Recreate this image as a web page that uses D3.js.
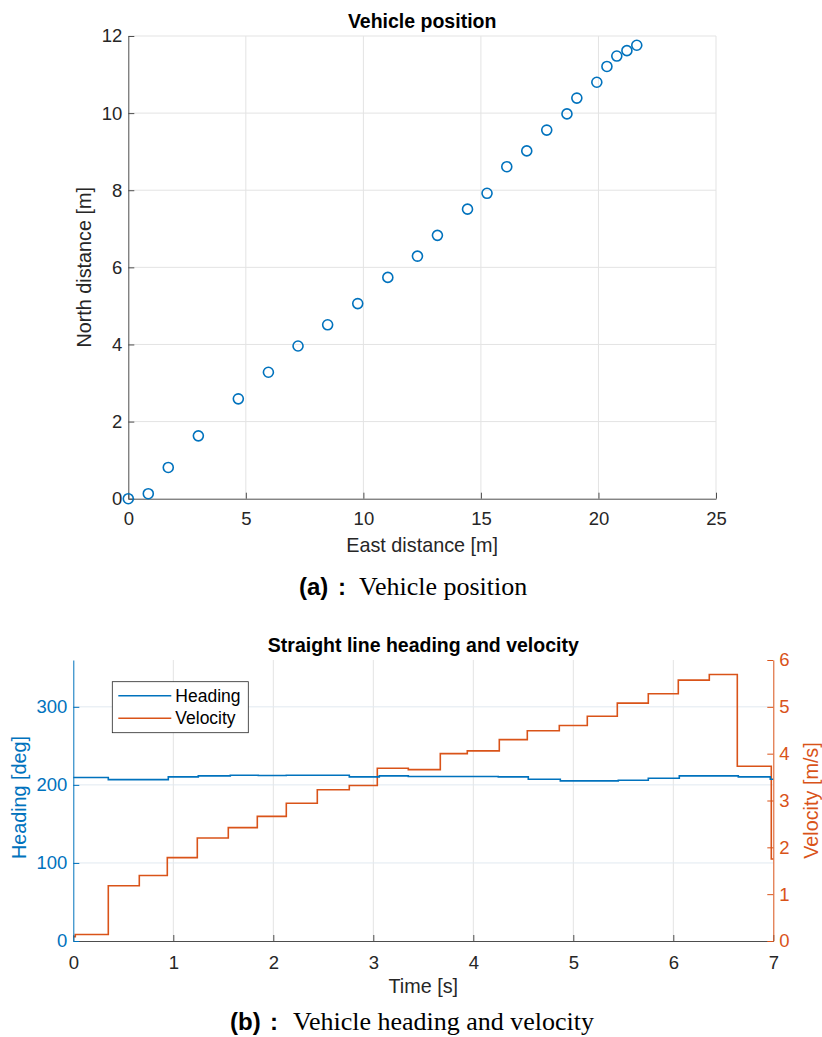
<!DOCTYPE html>
<html lang="en">
<head>
    <meta charset="UTF-8">
    <title>Vehicle position, heading and velocity</title>
    <style>
        body{
            margin: 0;
            background: #fff;
        }
        svg{
            display: block;
        }
        .axis text{
            font-family: "Liberation Sans", Arial, sans-serif;
            font-size: 18.5px;
            fill: #262626;
        }
        .axis .domain{
            stroke: #4d4d4d;
        }
        .axis .tick line{
            stroke: #4d4d4d;
        }
        .grid line{
            stroke: #e3e3e3;
            stroke-width: 1px;
        }
        .gridH line{
            stroke: #e1e9f0;
        }
        .title{
            font-family: "Liberation Sans", Arial, sans-serif;
            font-weight: bold;
            font-size: 19.5px;
            fill: #000;
        }
        .label{
            font-family: "Liberation Sans", Arial, sans-serif;
            font-size: 19.8px;
            fill: #262626;
        }
        .capTag{
            font-family: "Liberation Sans", Arial, sans-serif;
            font-weight: bold;
            font-size: 24px;
        }
        .capText{
            font-family: "Liberation Serif", "DejaVu Serif", serif;
            font-size: 26px;
        }
        .marker{
            fill: none;
            stroke: #0072BD;
            stroke-width: 1.6px;
        }
        .heading{
            fill: none;
            stroke: #0072BD;
            stroke-width: 1.6px;
        }
        .velocity{
            fill: none;
            stroke: #D95319;
            stroke-width: 1.6px;
        }
        .legend text{
            font-family: "Liberation Sans", Arial, sans-serif;
            font-size: 17.5px;
            fill: #000;
        }
    </style>
    <script src="https://cdn.jsdelivr.net/npm/d3@7"></script>
</head>
<body>
<script>

    // ---- data: vehicle position (top chart)
    const eastDist  = [0, 0.85, 1.70, 2.98, 4.68, 5.96, 7.22, 8.48, 9.76, 11.04, 12.30,
                       13.15, 14.43, 15.26, 16.10, 16.95, 17.80, 18.66, 19.08, 19.93,
                       20.36, 20.78, 21.21, 21.63];
    const northDist = [0, 0.13, 0.81, 1.63, 2.59, 3.28, 3.96, 4.51, 5.06, 5.74, 6.29,
                       6.83, 7.51, 7.92, 8.61, 9.02, 9.56, 9.98, 10.39, 10.80,
                       11.21, 11.48, 11.62, 11.76];
    const eastTicks  = [0, 5, 10, 15, 20, 25];
    const northTicks = [0, 2, 4, 6, 8, 10, 12];

    // ---- data: heading and velocity (bottom chart), step series
    const headingTime = [0, 0.35, 0.95, 1.25, 1.57, 1.85, 2.13, 2.76, 3.06, 3.35, 4.25,
                         4.55, 4.87, 5.45, 5.75, 6.06, 6.65, 6.97, 7.0];
    const headingDeg  = [209.4, 206.8, 210.3, 211.5, 212.4, 212.0, 212.4, 210.3, 211.5, 210.7, 210.3,
                         207.3, 205.1, 206.0, 208.5, 211.5, 210.3, 207.3, 207.3];
    const velTime = [0, 0.02, 0.35, 0.66, 0.94, 1.24, 1.55, 1.84, 2.13, 2.44, 2.76,
                     3.04, 3.35, 3.67, 3.94, 4.26, 4.54, 4.86, 5.14, 5.44, 5.75,
                     6.05, 6.36, 6.64, 6.98, 7.0];
    const velMs   = [0.09, 0.14, 1.18, 1.40, 1.78, 2.20, 2.42, 2.66, 2.94, 3.23, 3.32,
                     3.69, 3.66, 4.00, 4.06, 4.30, 4.49, 4.60, 4.80, 5.08, 5.28,
                     5.57, 5.69, 3.73, 1.75, 1.75];
    const timeTicks    = [0, 1, 2, 3, 4, 5, 6, 7];
    const headingTicks = [0, 100, 200, 300];
    const velTicks     = [0, 1, 2, 3, 4, 5, 6];
    const legendNames  = ["Heading", "Velocity"];

    const width = 822;
    const height = 1037;
    const blue = "#0072BD";
    const orange = "#D95319";

    const svg = d3.select("body").append("svg")
        .attr("width", width)
        .attr("height", height);

    /* ================= (a) Vehicle position ================= */
    const top1 = {left: 128.3, right: 716, top: 36, bottom: 498.7};

    const xPos = d3.scaleLinear().domain([0, 25]).range([top1.left, top1.right]);
    const yPos = d3.scaleLinear().domain([0, 12]).range([top1.bottom, top1.top]);

    // grid
    svg.append("g").attr("class", "grid")
        .selectAll("line").data(eastTicks.slice(1)).enter().append("line")
        .attr("x1", d => xPos(d)).attr("x2", d => xPos(d))
        .attr("y1", top1.top).attr("y2", top1.bottom);
    svg.append("g").attr("class", "grid")
        .selectAll("line").data(northTicks.slice(1)).enter().append("line")
        .attr("x1", top1.left).attr("x2", top1.right)
        .attr("y1", d => yPos(d)).attr("y2", d => yPos(d));

    // axes (ticks point inward like matlab)
    svg.append("g").attr("class", "axis")
        .attr("transform", `translate(0,${top1.bottom})`)
        .call(d3.axisBottom(xPos).tickValues(eastTicks).tickFormat(d3.format("d"))
            .tickSizeInner(-6).tickSizeOuter(0).tickPadding(13));
    svg.append("g").attr("class", "axis")
        .attr("transform", `translate(${top1.left},0)`)
        .call(d3.axisLeft(yPos).tickValues(northTicks).tickFormat(d3.format("d"))
            .tickSizeInner(-6).tickSizeOuter(0).tickPadding(6));

    // markers
    svg.append("g")
        .selectAll("circle")
        .data(eastDist.map((e, i) => ({e: e, n: northDist[i]})))
        .enter()
        .append("circle")
        .attr("class", "marker")
        .attr("cx", d => xPos(d.e))
        .attr("cy", d => yPos(d.n))
        .attr("r", 5);

    svg.append("text").attr("class", "title")
        .attr("x", (top1.left + top1.right) / 2).attr("y", 28)
        .style("text-anchor", "middle")
        .text("Vehicle position");

    svg.append("text").attr("class", "label")
        .attr("x", (top1.left + top1.right) / 2).attr("y", 552)
        .style("text-anchor", "middle")
        .text("East distance [m]");

    svg.append("text").attr("class", "label")
        .attr("transform", `translate(91,${(top1.top + top1.bottom) / 2}) rotate(-90)`)
        .style("text-anchor", "middle")
        .text("North distance [m]");

    // caption (a)
    svg.append("text").attr("class", "capTag").attr("x", 299).attr("y", 595).text("(a)");
    svg.append("text").attr("class", "capTag").attr("x", 338).attr("y", 595).text(":");
    svg.append("text").attr("class", "capText").attr("x", 359).attr("y", 595).text("Vehicle position");

    /* ================= (b) heading and velocity ================= */
    const bot = {left: 73.3, right: 773.3, top: 660, bottom: 941};

    const xTime = d3.scaleLinear().domain([0, 7]).range([bot.left, bot.right]);
    const yHead = d3.scaleLinear().domain([0, 360]).range([bot.bottom, bot.top]);
    const yVel  = d3.scaleLinear().domain([0, 6]).range([bot.bottom, bot.top]);

    svg.append("g").attr("class", "grid")
        .selectAll("line").data(timeTicks.slice(1, -1)).enter().append("line")
        .attr("x1", d => xTime(d)).attr("x2", d => xTime(d))
        .attr("y1", bot.top).attr("y2", bot.bottom);
    svg.append("g").attr("class", "grid gridH")
        .selectAll("line").data(headingTicks.slice(1)).enter().append("line")
        .attr("x1", bot.left).attr("x2", bot.right)
        .attr("y1", d => yHead(d)).attr("y2", d => yHead(d));

    const lineHead = d3.line()
        .x(d => xTime(d.t))
        .y(d => yHead(d.v))
        .curve(d3.curveStepAfter);
    const lineVel = d3.line()
        .x(d => xTime(d.t))
        .y(d => yVel(d.v))
        .curve(d3.curveStepAfter);

    svg.append("path").attr("class", "velocity")
        .datum(velTime.map((t, i) => ({t: t, v: velMs[i]})))
        .attr("d", lineVel);
    svg.append("path").attr("class", "heading")
        .datum(headingTime.map((t, i) => ({t: t, v: headingDeg[i]})))
        .attr("d", lineHead);

    svg.append("g").attr("class", "axis")
        .attr("transform", `translate(0,${bot.bottom})`)
        .call(d3.axisBottom(xTime).tickValues(timeTicks).tickFormat(d3.format("d"))
            .tickSizeInner(-6).tickSizeOuter(0).tickPadding(15));

    const leftAx = svg.append("g").attr("class", "axis")
        .attr("transform", `translate(${bot.left},0)`)
        .call(d3.axisLeft(yHead).tickValues(headingTicks).tickFormat(d3.format("d"))
            .tickSizeInner(-6).tickSizeOuter(0).tickPadding(6));
    leftAx.select(".domain").style("stroke", blue);
    leftAx.selectAll(".tick line").style("stroke", blue);
    leftAx.selectAll("text").style("fill", blue);

    const rightAx = svg.append("g").attr("class", "axis")
        .attr("transform", `translate(${bot.right},0)`)
        .call(d3.axisRight(yVel).tickValues(velTicks).tickFormat(d3.format("d"))
            .tickSizeInner(-6).tickSizeOuter(0).tickPadding(6));
    rightAx.select(".domain").style("stroke", orange);
    rightAx.selectAll(".tick line").style("stroke", orange);
    rightAx.selectAll("text").style("fill", orange);

    svg.append("text").attr("class", "title")
        .attr("x", (bot.left + bot.right) / 2).attr("y", 652)
        .style("text-anchor", "middle")
        .text("Straight line heading and velocity");

    svg.append("text").attr("class", "label")
        .attr("x", (bot.left + bot.right) / 2).attr("y", 993)
        .style("text-anchor", "middle")
        .text("Time [s]");

    svg.append("text").attr("class", "label")
        .attr("transform", `translate(26,${(bot.top + bot.bottom) / 2 - 3}) rotate(-90)`)
        .style("text-anchor", "middle")
        .style("fill", blue)
        .text("Heading [deg]");

    svg.append("text").attr("class", "label")
        .attr("transform", `translate(818,${(bot.top + bot.bottom) / 2}) rotate(-90)`)
        .style("text-anchor", "middle")
        .style("fill", orange)
        .text("Velocity [m/s]");

    // legend
    const legend = svg.append("g").attr("class", "legend")
        .attr("transform", "translate(112.3,681.7)");
    legend.append("rect")
        .attr("width", 136).attr("height", 51)
        .style("fill", "#fff").style("stroke", "#262626").style("stroke-width", 0.8);
    const item = legend.selectAll(".item")
        .data(legendNames).enter().append("g")
        .attr("transform", (d, i) => `translate(0,${14 + i * 22.6})`);
    item.append("line")
        .attr("x1", 6).attr("x2", 59)
        .style("stroke", (d, i) => i === 0 ? blue : orange)
        .style("stroke-width", 1.6);
    item.append("text")
        .attr("x", 63).attr("dy", "0.35em")
        .text(d => d);

    // caption (b)
    svg.append("text").attr("class", "capTag").attr("x", 230).attr("y", 1029.5).text("(b)");
    svg.append("text").attr("class", "capTag").attr("x", 270).attr("y", 1029.5).text(":");
    svg.append("text").attr("class", "capText").attr("x", 293).attr("y", 1029.5).text("Vehicle heading and velocity");

</script>
</body>
</html>
